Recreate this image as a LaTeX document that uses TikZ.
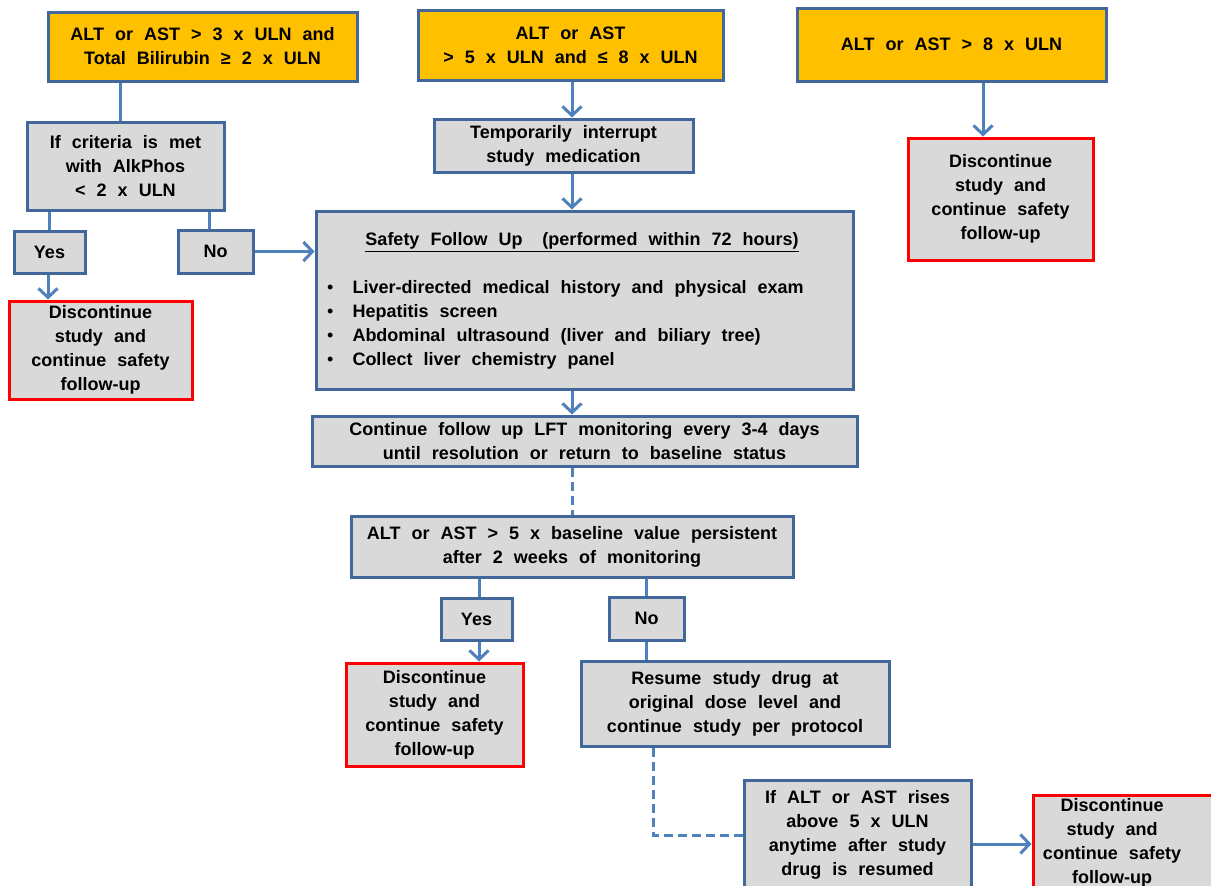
\documentclass[tikz,border=0pt]{standalone}
\usepackage{fontspec}
\setmainfont{Liberation Sans}[WordSpace=2.2]
\usetikzlibrary{arrows.meta}
\definecolor{orng}{HTML}{FFC000}
\definecolor{gryf}{HTML}{D9D9D9}
\definecolor{bord}{HTML}{41679B}
\definecolor{lblu}{HTML}{4F81BD}
\definecolor{redb}{HTML}{FF0000}
\begin{document}
\begin{tikzpicture}[x=1pt,y=-1pt,
  every node/.style={font=\bfseries\fontsize{18}{24}\selectfont, align=center, inner sep=0pt},
  base/.style={draw=bord, line width=3pt},
  obox/.style={base, fill=orng},
  gbox/.style={base, fill=gryf},
  rbox/.style={draw=redb, line width=3pt, fill=gryf},
  conn/.style={draw=lblu, line width=3pt},
  arr/.style={conn, -{Straight Barb[length=9pt, width=19pt]}},
  dconn/.style={conn, dash pattern=on 9pt off 5pt}]
\fill[white] (0,0) rectangle (1211,886);
\useasboundingbox (0,0) rectangle (1211,886);

% top row
\node[obox, minimum width=309pt, minimum height=69pt] (a1) at (202.5,46.5) {ALT or AST > 3 x ULN and\\Total Bilirubin ≥ 2 x ULN};
\node[obox, minimum width=305pt, minimum height=70pt] (a2) at (570.5,45) {ALT or AST\\> 5 x ULN and ≤ 8 x ULN};
\node[obox, minimum width=309pt, minimum height=73pt] (a3) at (951.5,44.5) {ALT or AST > 8 x ULN};

% left branch
\node[gbox, minimum width=197pt, minimum height=88pt] (b) at (125.5,166) {If criteria is met\\with AlkPhos\\< 2 x ULN};
\node[gbox, minimum width=71pt, minimum height=42pt] (yes1) at (49.5,252) {Yes};
\node[gbox, minimum width=75pt, minimum height=43pt] (no1) at (215.5,251.5) {No};
\node[rbox, minimum width=183pt, minimum height=98pt] (d1) at (100.5,350) {Discontinue\\study and\\continue safety\\follow-up};

% middle
\node[gbox, minimum width=259pt, minimum height=53pt] (temp) at (563.5,145.5) {Temporarily interrupt\\study medication};
\node[gbox, minimum width=537pt, minimum height=178pt] (safe) at (584.5,300) {};
\node (safet) at (582,242) {\underline{Safety Follow Up\hspace{20pt}(performed within 72 hours)}};
\node[anchor=west] (safel) at (327,324.5) {\begin{tabular}{@{}l@{\hspace{19pt}}l@{}}
\normalfont\textbullet & Liver-directed medical history and physical exam\\
\normalfont\textbullet & Hepatitis screen\\
\normalfont\textbullet & Abdominal ultrasound (liver and biliary tree)\\
\normalfont\textbullet & Collect liver chemistry panel
\end{tabular}};
\node[gbox, minimum width=545pt, minimum height=50pt] (lft) at (584.5,441) {Continue follow up LFT monitoring every 3-4 days\\until resolution or return to baseline status};
\node[gbox, minimum width=442pt, minimum height=61pt] (alt5) at (572,546.5) {ALT or AST > 5 x baseline value persistent\\after 2 weeks of monitoring};
\node[gbox, minimum width=71pt, minimum height=42pt] (yes2) at (476.5,619) {Yes};
\node[gbox, minimum width=75pt, minimum height=43pt] (no2) at (646.5,618.5) {No};
\node[rbox, minimum width=177pt, minimum height=103pt] (d2) at (434.5,714.5) {Discontinue\\study and\\continue safety\\follow-up};
\node[gbox, minimum width=308pt, minimum height=85pt] (res) at (735,703.5) {Resume study drug at\\original dose level and\\continue study per protocol};
\node[gbox, minimum width=227pt, minimum height=110pt] (ifalt) at (857.5,835) {If ALT or AST rises\\above 5 x ULN\\anytime after study\\drug is resumed};
\node[rbox, minimum width=192pt, minimum height=95pt] (d3) at (1129,842.5) {};
\node (d3t) at (1112,843) {Discontinue\\study and\\continue safety\\follow-up};

% right
\node[rbox, minimum width=185pt, minimum height=122pt] (d4) at (1000.5,199) {Discontinue\\study and\\continue safety\\follow-up};

% connectors
\coordinate (ie) at ([yshift=-9pt]ifalt.east);
\draw[conn] ([xshift=-82.5pt]a1.south) -- ([xshift=-82.5pt]a1.south |- b.north);
\draw[conn] (yes1.north |- b.south) -- (yes1.north);
\draw[conn] ([xshift=-6.5pt]no1.north |- b.south) -- ([xshift=-6.5pt]no1.north);
\draw[arr] ([xshift=-1.5pt]yes1.south) -- ([xshift=-1.5pt]yes1.south |- d1.north);
\draw[arr] (no1.east) -- (safe.west |- no1.east);
\draw[arr] ([xshift=1.5pt]a2.south) -- ([xshift=1.5pt]a2.south |- temp.north);
\draw[arr] ([xshift=8.5pt]temp.south) -- ([xshift=8.5pt]temp.south |- safe.north);
\draw[arr] ([xshift=-12.5pt]safe.south) -- ([xshift=-12.5pt]safe.south |- lft.north);
\draw[dconn] (alt5.north |- lft.south) -- (alt5.north);
\draw[conn] ([xshift=2.5pt]yes2.north |- alt5.south) -- ([xshift=2.5pt]yes2.north);
\draw[arr] ([xshift=2.5pt]yes2.south) -- ([xshift=2.5pt]yes2.south |- d2.north);
\draw[conn] (no2.north |- alt5.south) -- (no2.north);
\draw[conn] (no2.south) -- (no2.south |- res.north);
\draw[dconn] ([xshift=-82pt]res.south) |- (ifalt.west);
\draw[arr] (ie) -- (d3.west |- ie);
\draw[arr] ([xshift=31.5pt]a3.south) -- ([xshift=31.5pt]a3.south |- d4.north);
\end{tikzpicture}
\end{document}
